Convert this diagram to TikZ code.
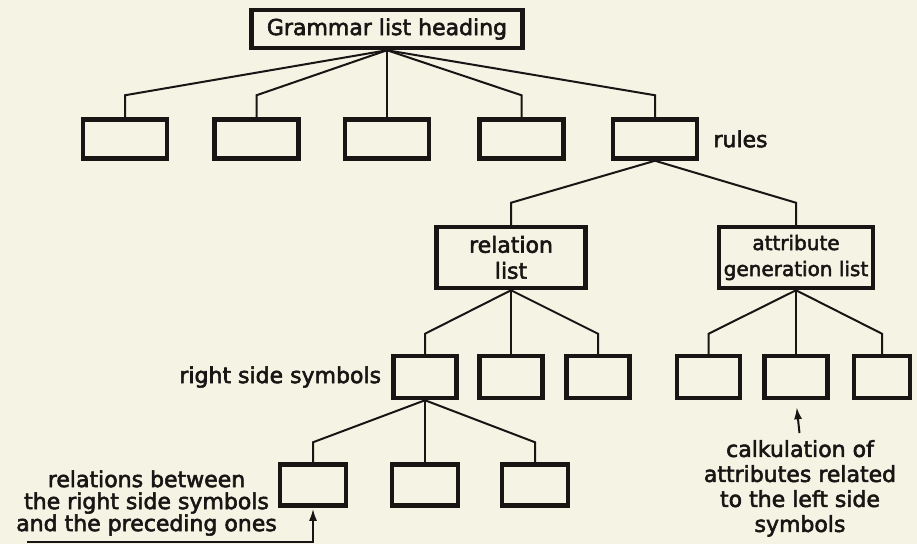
\documentclass[tikz,border=0pt]{standalone}
\usepackage{fontspec}
\setmainfont{DejaVu Sans}[FakeBold=2.5]
\usetikzlibrary{arrows.meta,positioning}
\definecolor{paper}{RGB}{245,243,228}
\definecolor{ink}{RGB}{24,22,20}

\begin{document}
\begin{tikzpicture}[x=1pt, y=-1pt, font=\fontsize{22}{26}\selectfont, text=ink, box/.style={draw=ink, line width=4.5pt, inner sep=0pt, align=center}, rule/.style={box, minimum width=84pt, minimum height=39pt}, sym/.style={box, minimum width=63pt, minimum height=42pt}, rel/.style={box, minimum width=66pt, minimum height=41pt}, lbl/.style={inner sep=2pt, align=center}, conn/.style={draw=ink, line width=2pt}, arr/.style={conn, -{Latex[length=12pt, width=8pt]}}]
    \fill[paper] (0,0) rectangle (917,544);
    \useasboundingbox (0,0) rectangle (917,544);
    \node[box, minimum width=271pt, minimum height=38pt] (head) at (387,29) {Grammar list heading};
    \node[rule] (r1) at (125,139) {};
    \node[rule] (r2) at (256.5,139) {};
    \node[rule] (r3) at (387,139) {};
    \node[rule] (r4) at (521.5,139) {};
    \node[rule] (r5) at (655,139) {};
    \node[lbl, right=12pt of r5] (rules) {rules};
    \node[box, minimum width=149pt, minimum height=61pt] (rlist) at (511,257.5) {relation\\list};
    \node[box, minimum width=154pt, minimum height=61pt, font=\fontsize{20}{26}\selectfont] (alist) at (796,257.5) {attribute\\generation list};
    \node[sym] (s1) at (425,377) {};
    \node[sym] (s2) at (511,377) {};
    \node[sym] (s3) at (598,377) {};
    \node[sym] (s4) at (708.5,377) {};
    \node[sym] (s5) at (796,377) {};
    \node[sym, minimum width=56pt] (s6) at (882,377) {};
    \node[lbl, left=8pt of s1] (rss) {right side symbols};
    \node[rel] (t1) at (313,485) {};
    \node[rel] (t2) at (425,485) {};
    \node[rel] (t3) at (535,485) {};
    \node[lbl, anchor=east, font=\fontsize{22}{22}\selectfont] (rnote) at (279,503) {relations between\\the right side symbols\\and the preceding ones};
    \node[lbl, anchor=north, font=\fontsize{22}{25}\selectfont] (calc) at (800,438) {calkulation of\\attributes related\\to the left side\\symbols};
    \coordinate (tail) at (27,542);
    \draw[conn] (head.south) -- ([yshift=22pt]r1.north) -- (r1.north);
    \draw[conn] (head.south) -- ([yshift=22pt]r2.north) -- (r2.north);
    \draw[conn] (head.south) -- (r3.north);
    \draw[conn] (head.south) -- ([yshift=22pt]r4.north) -- (r4.north);
    \draw[conn] (head.south) -- ([yshift=22pt]r5.north) -- (r5.north);
    \draw[conn] (r5.south) -- ([yshift=22pt]rlist.north) -- (rlist.north);
    \draw[conn] (r5.south) -- ([yshift=22pt]alist.north) -- (alist.north);
    \draw[conn] (rlist.south) -- ([yshift=20pt]s1.north) -- (s1.north);
    \draw[conn] (rlist.south) -- (s2.north);
    \draw[conn] (rlist.south) -- ([yshift=20pt]s3.north) -- (s3.north);
    \draw[conn] (alist.south) -- ([yshift=20pt]s4.north) -- (s4.north);
    \draw[conn] (alist.south) -- (s5.north);
    \draw[conn] (alist.south) -- ([yshift=20pt]s6.north) -- (s6.north);
    \draw[conn] (s1.south) -- ([yshift=20pt]t1.north) -- (t1.north);
    \draw[conn] (s1.south) -- (t2.north);
    \draw[conn] (s1.south) -- ([yshift=20pt]t3.north) -- (t3.north);
    \draw[arr, shorten >=1pt] (tail) -| (t1.south);
    \draw[arr, shorten <=5pt, shorten >=7pt] (calc.north) -- (s5.south);
  \end{tikzpicture}
\end{document}
